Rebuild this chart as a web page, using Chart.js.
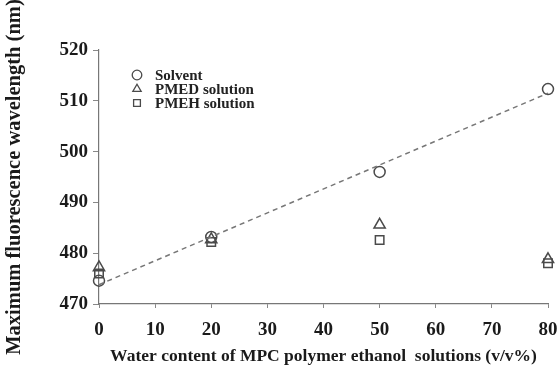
<!DOCTYPE html>
<html>
<head>
<meta charset="utf-8">
<script src="https://cdn.jsdelivr.net/npm/chart.js@4"></script>
<style>
  html, body { margin: 0; padding: 0; background: #fff; }
  #wrap { width: 558px; height: 375px; }
</style>
</head>
<body>
<div id="wrap"><canvas id="fluoChart"></canvas></div>
<script>
// water content (v/v%)
const waterContent = [0, 20, 50, 80];
const solvent = [474.6, 483.2, 496, 512.3];
const pmedSolution = [477.2, 482.7, 485.6, 478.8];
const pmehSolution = [476, 482.2, 482.6, 478];
// dashed guide line through the solvent points
const trendX = [0, 80];
const trendY = [473.8, 511.5];
const yTicks = [470, 480, 490, 500, 510, 520];

const serif = "'Liberation Serif', 'Times New Roman', serif";
const ink = "#4a4a4a";

function pts(xs, ys) {
  return xs.map((x, i) => ({x: x, y: ys[i]}));
}

const markerSets = [
  {label: "Solvent", data: solvent, style: "circle", radius: 5.5},
  {label: "PMED solution", data: pmedSolution, style: "triangle", radius: 6.5},
  {label: "PMEH solution", data: pmehSolution, style: "rect", radius: 6}
];

let datasets = [{
  label: "trend",
  data: pts(trendX, trendY),
  showLine: true,
  borderColor: "#777",
  borderWidth: 1.5,
  borderDash: [5, 4],
  pointRadius: 0,
  fill: false,
  clip: false
}];
for (const m of markerSets) {
  datasets.push({
    label: m.label,
    data: pts(waterContent, m.data),
    showLine: false,
    pointStyle: m.style,
    pointRadius: m.radius,
    borderColor: ink,
    backgroundColor: "rgba(255,255,255,0)",
    pointBorderWidth: 1.5,
    clip: false
  });
}

// small legend drawn inside the plot, top-left
const innerLegend = {
  id: "innerLegend",
  afterDraw(chart) {
    const ctx = chart.ctx;
    ctx.save();
    ctx.font = "bold 15px " + serif;
    ctx.textBaseline = "middle";
    const rows = [75, 89, 103];
    markerSets.forEach((m, i) => {
      ctx.strokeStyle = ink;
      ctx.fillStyle = "#fff";
      ctx.lineWidth = 1.3;
      Chart.helpers.drawPoint(ctx, {pointStyle: m.style, radius: 4.8, rotation: 0, borderWidth: 1.3}, 137, rows[i]);
      ctx.fillStyle = "#222";
      ctx.fillText(m.label, 155, rows[i] + 1);
    });
    ctx.restore();
  }
};

new Chart(document.getElementById("fluoChart"), {
  type: "scatter",
  data: {datasets: datasets},
  plugins: [innerLegend],
  options: {
    responsive: true,
    maintainAspectRatio: false,
    animation: false,
    layout: {padding: {top: 50, right: 0, left: 0, bottom: 0}},
    plugins: {
      legend: {display: false},
      tooltip: {enabled: false}
    },
    scales: {
      x: {
        type: "linear",
        min: 0,
        max: 80,
        afterFit: (s) => { s.height = 71; s.paddingRight = 10; },
        ticks: {
          stepSize: 10,
          color: "#1a1a1a",
          padding: 11,
          font: {family: serif, size: 19, weight: "bold"}
        },
        grid: {display: true, drawOnChartArea: false, drawTicks: true, tickLength: 4, color: "#888"},
        border: {color: "#777", width: 1.2},
        title: {
          display: true,
          text: "Water content of MPC polymer ethanol  solutions (v/v%)",
          color: "#1a1a1a",
          padding: {top: 0, bottom: 8},
          font: {family: serif, size: 17.5, weight: "bold"}
        }
      },
      y: {
        min: 470,
        max: 520,
        afterFit: (s) => { s.width = 99; },
        afterBuildTicks: (s) => { s.ticks = yTicks.map(v => ({value: v})); },
        ticks: {
          color: "#1a1a1a",
          padding: 5,
          font: {family: serif, size: 19, weight: "bold"}
        },
        grid: {display: true, drawOnChartArea: false, drawTicks: true, tickLength: 6, color: "#888"},
        border: {color: "#777", width: 1.2},
        title: {
          display: true,
          text: "Maximum fluorescence wavelength (nm)",
          color: "#1a1a1a",
          padding: {top: 2, bottom: 0},
          font: {family: serif, size: 20.5, weight: "bold"}
        }
      }
    }
  }
});
</script>
</body>
</html>
